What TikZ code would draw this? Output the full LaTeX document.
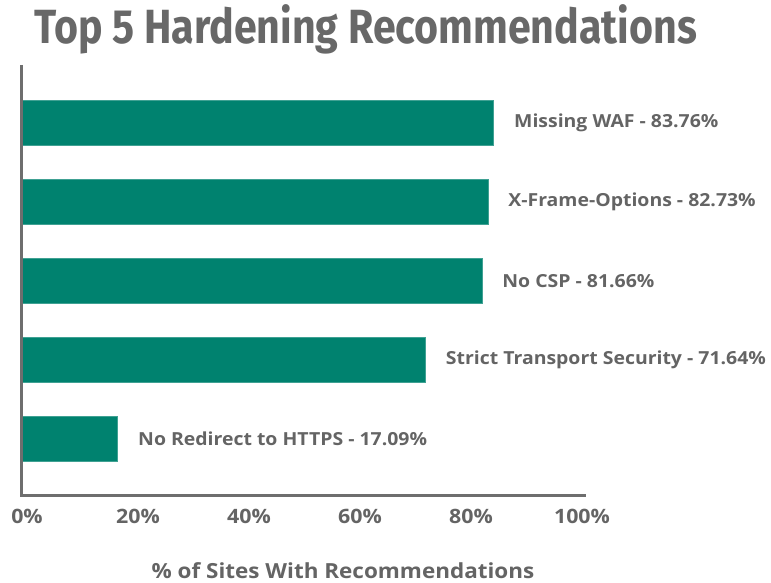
\documentclass[tikz,border=0pt]{standalone}
\usepackage{fontspec}
\setmainfont{Open Sans}
\newfontfamily\titlefont[FakeStretch=0.857]{Fira Sans}
\newfontfamily\labelfont[FakeStretch=1.08]{Open Sans}
\usetikzlibrary{positioning,calc}
\definecolor{barteal}{RGB}{0,130,111}
\definecolor{titlegray}{RGB}{104,104,104}
\definecolor{txtgray}{RGB}{100,100,100}
\definecolor{axisgray}{RGB}{110,110,110}
\tikzstyle{bar} = [rectangle, fill=barteal, draw=barteal!75!white, line width=0.6pt, inner sep=0pt, minimum height=45pt, anchor=west]
\tikzstyle{barlabel} = [font=\labelfont\bfseries\fontsize{18}{21}\selectfont, text=txtgray, inner sep=0pt]
\tikzstyle{ticklabel} = [font=\labelfont\bfseries\fontsize{19.8}{24}\selectfont, text=txtgray, inner sep=0pt]
\tikzstyle{axisline} = [line width=3pt, draw=axisgray]

\begin{document}
\begin{tikzpicture}[x=1pt,y=-1pt]
\useasboundingbox (0,0) rectangle (771,583);
\node[anchor=west, font=\titlefont\bfseries\fontsize{48}{52}\selectfont, text=titlegray, inner sep=0pt] (title) at (34,29) {Top 5 Hardening Recommendations};

% bars (100% = 564pt)
\node[bar, minimum width=472.4pt] (waf) at (21,123) {};
\node[bar, minimum width=466.6pt] (xfo) at (21,202) {};
\node[bar, minimum width=460.6pt] (csp) at (21,281) {};
\node[bar, minimum width=404.1pt] (hsts) at (21,360) {};
\node[bar, minimum width=96.4pt] (https) at (21,439) {};

\node[barlabel, right=20pt of waf] (lwaf) {Missing WAF - 83.76\%};
\node[barlabel, right=20pt of xfo] (lxfo) {X-Frame-Options - 82.73\%};
\node[barlabel, right=20pt of csp] (lcsp) {No CSP - 81.66\%};
\node[barlabel, right=20pt of hsts] (lhsts) {Strict Transport Security - 71.64\%};
\node[barlabel, right=20pt of https] (lhttps) {No Redirect to HTTPS - 17.09\%};

% axes
\coordinate (ytop) at (21,65);
\coordinate (origin) at (21,495);
\coordinate (xend) at (586,495);
\draw[axisline] (ytop) -- (origin) -- (xend);

\foreach \p [count=\i from 0] in {0,20,40,60,80,100}
  \node[ticklabel] (t\p) at ($(origin)+(6+111*\i,21)$) {\p\%};

\node[font=\labelfont\bfseries\fontsize{20.8}{24}\selectfont, text=txtgray, inner sep=0pt] (xtitle) at (343,571) {\% of Sites With Recommendations};
\end{tikzpicture}
\end{document}
